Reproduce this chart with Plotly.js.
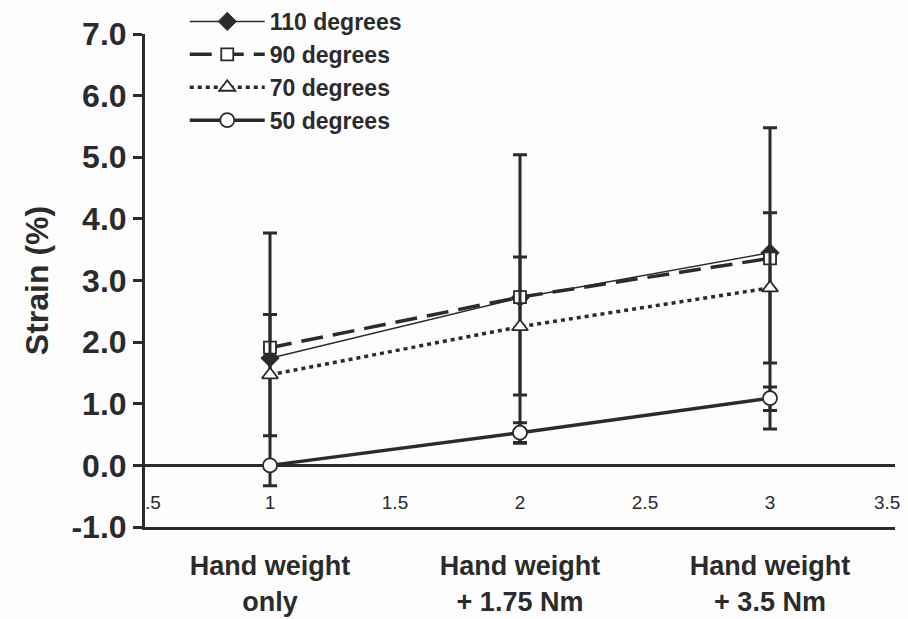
<!DOCTYPE html>
<html>
<head>
<meta charset="utf-8">
<script src="https://cdn.plot.ly/plotly-3.0.1.min.js"></script>
<style>html,body{margin:0;padding:0;background:#fdfdfd;}#chart{width:908px;height:619px;}</style>
</head>
<body>
<div id="chart"></div>
<script>
// ---- data ----
var xPos = [1, 2, 3];
var categories = ["Hand weight<br>only", "Hand weight<br>+ 1.75 Nm", "Hand weight<br>+ 3.5 Nm"];
var tickVals = [0.5, 1, 1.5, 2, 2.5, 3, 3.5];
var tickLabels = [".5", "1", "1.5", "2", "2.5", "3", "3.5"];
var yTickVals = [-1, 0, 1, 2, 3, 4, 5, 6, 7];
var yTickLabels = ["-1.0", "0.0", "1.0", "2.0", "3.0", "4.0", "5.0", "6.0", "7.0"];
var seriesNames = ["110 degrees", "90 degrees", "70 degrees", "50 degrees"];

var strain110 = [1.74, 2.72, 3.45];
var errPlus110 = [2.03, 2.32, 2.03];
var errMinus110 = [2.07, 2.36, 2.86];

var strain90 = [1.91, 2.73, 3.36];
var errPlus90 = [0, 0, 0];
var errMinus90 = [0, 0, 0];

var strain70 = [1.47, 2.25, 2.88];
var errPlus70 = [0.98, 1.13, 1.22];
var errMinus70 = [0.99, 1.11, 1.22];

var strain50 = [0.0, 0.53, 1.09];
var errPlus50 = [0, 0.16, 0.18];
var errMinus50 = [0, 0.16, 0.2];

// ---- drawing ----
var ink = "#2b2b2b";
var fontFam = "Liberation Sans, Arial, sans-serif";

function errBars(plus, minus) {
  return {type: "data", symmetric: false, array: plus, arrayminus: minus,
          color: ink, thickness: 3, width: 7, visible: true};
}

var traces = [
  {x: xPos, y: strain110, name: seriesNames[0], type: "scatter", mode: "lines+markers",
   line: {color: ink, width: 1.5},
   marker: {symbol: "diamond", size: 14, color: ink, line: {color: ink, width: 1}},
   error_y: errBars(errPlus110, errMinus110)},
  {x: xPos, y: strain90, name: seriesNames[1], type: "scatter", mode: "lines+markers",
   line: {color: ink, width: 3.5, dash: "22px,10px"},
   marker: {symbol: "square", size: 12, color: "#ffffff", line: {color: ink, width: 1.8}},
   error_y: errBars(errPlus90, errMinus90)},
  {x: xPos, y: strain70, name: seriesNames[2], type: "scatter", mode: "lines+markers",
   line: {color: ink, width: 3.5, dash: "4px,4px"},
   marker: {symbol: "triangle-up", size: 14, color: "#ffffff", line: {color: ink, width: 1.8}},
   error_y: errBars(errPlus70, errMinus70)},
  {x: xPos, y: strain50, name: seriesNames[3], type: "scatter", mode: "lines+markers",
   line: {color: ink, width: 3.5},
   marker: {symbol: "circle", size: 14, color: "#ffffff", line: {color: ink, width: 1.8}},
   error_y: errBars(errPlus50, errMinus50)},
  // invisible trace to carry the category axis
  {x: xPos, y: [null, null, null], xaxis: "x2", yaxis: "y", type: "scatter", mode: "markers",
   showlegend: false, hoverinfo: "skip"}
];

var shownTicks = tickLabels.map(function (t, i) {
  if (i === 0) return "&nbsp;&nbsp;&nbsp;" + t;
  if (i === tickLabels.length - 1) return t + "&nbsp;&nbsp;&nbsp;";
  return t;
});

var layout = {
  width: 908, height: 619,
  margin: {l: 145, r: 13, t: 34, b: 92, autoexpand: false},
  paper_bgcolor: "#fdfdfd", plot_bgcolor: "#fdfdfd",
  font: {family: fontFam, color: ink},
  showlegend: true,
  legend: {x: 0.053, xref: "paper", y: 1.0, yref: "container", xanchor: "left", yanchor: "top",
           bgcolor: "rgba(0,0,0,0)", itemwidth: 75,
           font: {family: fontFam, size: 23, color: ink, weight: "bold"},
           tracegroupgap: 0},
  xaxis: {range: [0.5, 3.5], showgrid: false, zeroline: false,
          showline: true, linecolor: ink, linewidth: 3,
          tickmode: "array", tickvals: tickVals, ticktext: shownTicks,
          ticks: "inside", ticklen: 15, tickcolor: "rgba(0,0,0,0)",
          ticklabelposition: "inside", ticklabeloverflow: "allow",
          tickfont: {family: "Liberation Sans Narrow, Liberation Sans, Arial, sans-serif", size: 19, color: ink}},
  xaxis2: {range: [0.5, 3.5], overlaying: "x", anchor: "y", side: "bottom",
           showgrid: false, zeroline: false, showline: false,
           tickmode: "array", tickvals: xPos, ticktext: categories,
           ticks: "outside", ticklen: 15, tickcolor: "rgba(0,0,0,0)",
           tickfont: {family: fontFam, size: 27, color: ink, weight: "bold"}},
  yaxis: {range: [-1, 7], showgrid: false,
          zeroline: true, zerolinecolor: ink, zerolinewidth: 3,
          showline: true, linecolor: ink, linewidth: 3,
          tickmode: "array", tickvals: yTickVals, ticktext: yTickLabels,
          ticks: "outside", ticklen: 9, tickwidth: 3, tickcolor: ink,
          tickfont: {family: fontFam, size: 32, color: ink, weight: "bold"},
          title: {text: "Strain (%)", standoff: 14,
                  font: {family: fontFam, size: 32, color: ink, weight: "bold"}}}
};

Plotly.newPlot("chart", traces, layout, {displayModeBar: false, staticPlot: true});
</script>
</body>
</html>
